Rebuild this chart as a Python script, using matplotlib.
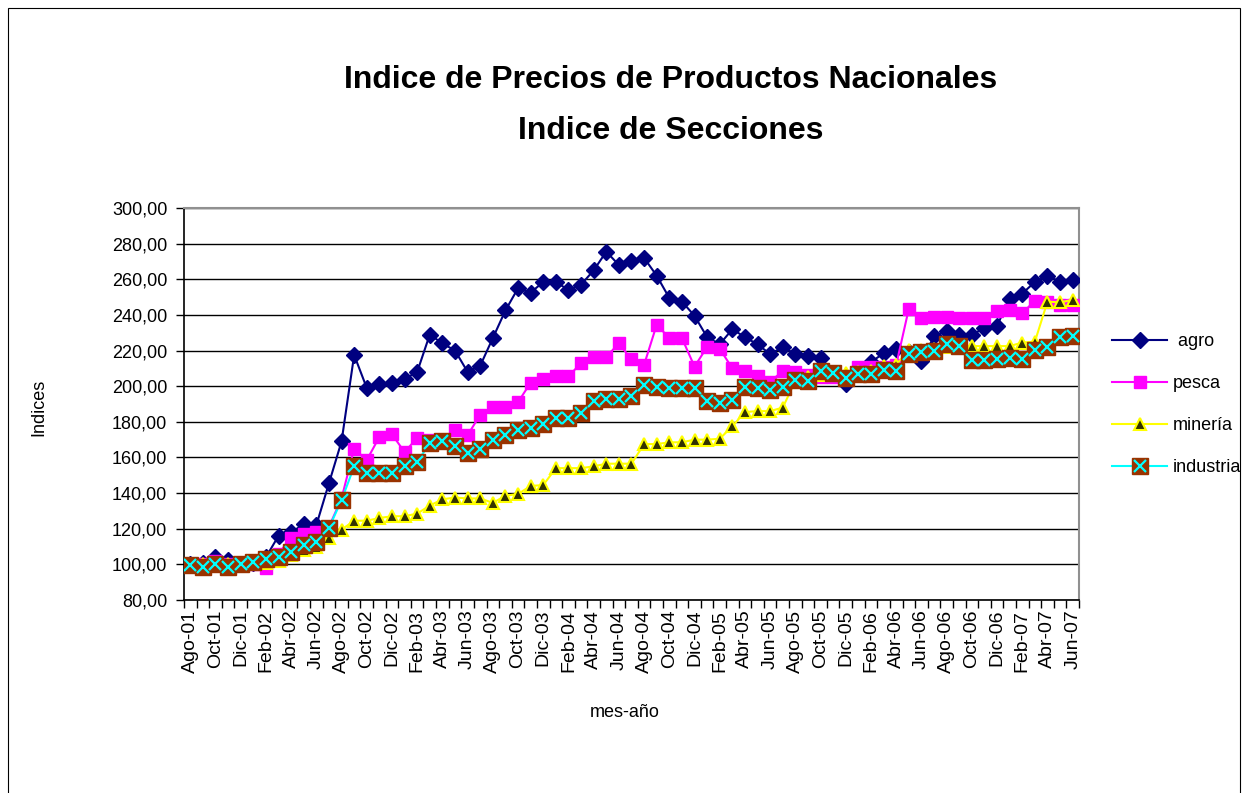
import numpy as np
import matplotlib.pyplot as plt
from matplotlib.legend_handler import HandlerTuple
from matplotlib.patches import Rectangle
from matplotlib.ticker import FuncFormatter

plt.rcParams['font.family'] = ['Liberation Sans', 'DejaVu Sans']

# meses: Ago-01 .. Jun-07
meses_es = ['Ene', 'Feb', 'Mar', 'Abr', 'May', 'Jun', 'Jul', 'Ago', 'Sep', 'Oct', 'Nov', 'Dic']
etiquetas = []
for k in range(71):
    m = (7 + k) % 12
    a = 1 + (7 + k) // 12
    etiquetas.append('%s-%02d' % (meses_es[m], a))

agro = [100, 101, 104, 102.5, 100, 100.5, 104, 116, 118, 122.5,
        122, 145.5, 169, 217.5, 199, 201, 202, 204, 208, 229,
        224, 220, 208, 211.5, 227, 242.5, 255, 252.5, 258.5, 258.5,
        254, 257, 265, 275.5, 268, 270, 272, 262, 249.5, 247.5,
        239.5, 227.5, 223.5, 232, 227.5, 223.5, 218, 222, 218, 217,
        216, 207, 201, 207, 213.5, 218.5, 221, 219, 214, 228,
        231, 228.5, 229, 232.5, 234, 249, 252, 258.5, 262, 258.5,
        259.5]
pesca = [100, 100, 102, 100, 100, 100, 98, 106, 115, 117,
         118, 121, 137, 165, 158.5, 171.5, 173, 163, 171, 170,
         170, 175.5, 172.5, 184, 188.5, 188.5, 191, 202, 204, 205.5,
         205.5, 213, 216.5, 216.5, 224, 215, 212, 234.5, 227, 227,
         211, 222, 221, 210, 208.5, 205.5, 202.5, 208.5, 208, 206,
         205, 205, 204, 211, 211, 211, 212, 243.5, 238, 239,
         239, 238, 238, 238, 242, 242.5, 241, 248, 247, 245.5,
         245.5]
mineria = [100, 100, 100, 100, 100, 100, 101, 102, 105, 108,
           110, 115, 119.5, 124.5, 124.5, 126, 127, 127, 128.5, 133,
           136.5, 137.5, 137, 137, 134.5, 138.5, 139.5, 144, 144.5, 154,
           154, 154, 155, 156.5, 156.5, 156.5, 167.5, 167.5, 168.5, 168.5,
           170, 170, 170.5, 177.5, 185.5, 186, 186, 188, 203, 205,
           206, 206, 207.5, 208, 208.5, 211.5, 212, 220.5, 220.5, 221,
           222, 222, 222.5, 222.5, 222.5, 222.5, 224.5, 225, 247.5, 247,
           248.5]
industria = [99.5, 98.7, 100, 98.7, 100, 101.5, 102.8, 104, 107, 111,
             112.7, 120.5, 136, 155, 151.5, 151.5, 151.5, 155, 157.5, 168,
             169, 166.5, 162.5, 165, 170, 172.5, 175.5, 176.5, 179, 182,
             182, 185, 191.5, 193, 193, 194.5, 200.5, 199.5, 199, 199,
             199, 191.5, 190.5, 192.5, 199.5, 199, 198, 199.5, 203.5, 203,
             208.5, 207.5, 204.5, 207, 207, 209, 208.5, 218, 219, 220,
             223.5, 222.5, 214.5, 214.5, 215, 216, 215, 220.5, 222, 227.5,
             228]

x = np.arange(len(agro))

fig = plt.figure(figsize=(12.49, 7.93), dpi=100)
ax = fig.add_axes([0.1473, 0.2434, 0.7166, 0.4943])

# frame around chart area
fig.patches.append(Rectangle((8 / 1249, -0.1), (1240 - 8) / 1249, 1.1 - 8 / 793,
                             transform=fig.transFigure, fill=False,
                             edgecolor='black', linewidth=0.8))

l1, = ax.plot(x, agro, color='#000080', lw=1.5, marker='D', ms=8.5,
              mfc='#000080', mec='#000080', zorder=3)
l2, = ax.plot(x, pesca, color='#FF00FF', lw=1.5, marker='s', ms=8,
              mfc='#FF00FF', mec='#FF00FF', zorder=4)
l3, = ax.plot(x, mineria, color='#FFFF00', lw=1.5, marker='^', ms=9,
              mfc='#333300', mec='#FFFF00', mew=1.5, zorder=5)
l4, = ax.plot(x, industria, color='#00FFFF', lw=1.5, marker='s', ms=12,
              mfc='#993300', mec='#993300', zorder=6)
l5, = ax.plot(x, industria, ls='none', marker='x', ms=9, mew=1.6,
              color='#00FFFF', zorder=7)

ax.set_xlim(-0.5, len(x) - 0.5)
ax.set_ylim(80, 300)
ax.set_yticks(np.arange(80, 301, 20))
ax.yaxis.set_major_formatter(FuncFormatter(lambda v, p: ('%.2f' % v).replace('.', ',')))
ax.grid(axis='y', color='black', lw=1.0)
ax.set_axisbelow(True)

ax.set_xticks(x[::2])
ax.set_xticklabels(etiquetas[::2], rotation=90)
ax.set_xticks(np.arange(-0.5, len(x), 1), minor=True)
ax.tick_params(axis='x', which='major', length=0, pad=7, labelsize=14)
ax.tick_params(axis='x', which='minor', length=6, width=1, direction='out')
ax.tick_params(axis='y', length=6, width=1, direction='out', labelsize=13, pad=6)

for s in ['top', 'right']:
    ax.spines[s].set_color('#909090')
    ax.spines[s].set_linewidth(1.5)
for s in ['left', 'bottom']:
    ax.spines[s].set_color('black')
    ax.spines[s].set_linewidth(1.2)

fig.text(0.537, 0.899, 'Indice de Precios de Productos Nacionales', ha='center',
         va='center', fontsize=23, fontweight='bold')
fig.text(0.537, 0.835, 'Indice de Secciones', ha='center', va='center',
         fontsize=23, fontweight='bold')

fig.text(0.031, 0.486, 'Indices', rotation=90, ha='center', va='center', fontsize=13)
fig.text(0.5, 0.102, 'mes-año', ha='center', va='center', fontsize=13)

leg = fig.legend([l1, l2, l3, (l4, l5)], [' agro', 'pesca', 'minería', 'industria'],
                 handler_map={tuple: HandlerTuple(ndivide=1, pad=0)},
                 loc='upper left', bbox_to_anchor=(1105 / 1249, 1 - 326 / 793),
                 frameon=False, fontsize=13, handlelength=3.05, labelspacing=1.38,
                 handletextpad=0.3, borderaxespad=0, borderpad=0.4)

fig.savefig('out.png', dpi=100)
